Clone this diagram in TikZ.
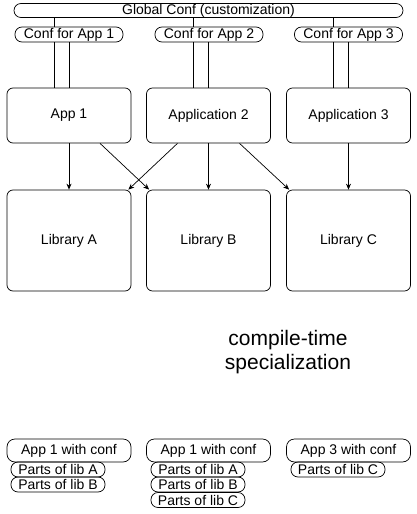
\documentclass[tikz,border=0pt]{standalone}
\usepackage{fontspec}
\setmainfont{Liberation Sans}
\usetikzlibrary{arrows.meta}
\begin{document}
\begin{tikzpicture}[x=1pt,y=-1pt,line width=.7pt,
  pill/.style={draw,rounded corners=7pt,inner sep=0pt,minimum height=15pt,
    font=\fontsize{14}{15}\selectfont},
  box/.style={draw,rounded corners=6pt,inner sep=0pt,minimum width=124pt,
    font=\fontsize{14}{15}\selectfont},
  link/.style={-{Stealth[length=6pt,width=5pt]}}]
  \useasboundingbox (0,0) rectangle (417,514);
  \node[pill,minimum width=389pt,minimum height=14pt] (glob) at (208.5,10.5) {Global Conf (customization)};
  \node[pill,minimum width=108pt] (conf1) at (69,34.5) {Conf for App 1};
  \node[pill,minimum width=108pt] (conf2) at (209,34.5) {Conf for App 2};
  \node[pill,minimum width=108pt] (conf3) at (348.5,34.5) {Conf for App 3};
  \node[box,minimum height=55pt] (app1) at (69,115.5) {App 1};
  \node[box,minimum height=55pt] (app2) at (208.5,115.5) {Application 2};
  \node[box,minimum height=55pt] (app3) at (348.5,115.5) {Application 3};
  \node[box,minimum height=101pt] (libA) at (69,240.5) {Library A};
  \node[box,minimum height=101pt] (libB) at (208.5,240.5) {Library B};
  \node[box,minimum height=101pt] (libC) at (348.5,240.5) {Library C};
  \foreach \n in {1,2,3} {
    \coordinate (a\n) at ([xshift=-15pt]app\n.north);
    \draw (a\n) -- (a\n |- conf\n.south);
    \draw (app\n.north) -- (app\n.north |- conf\n.south);
    \draw (a\n |- conf\n.north) -- (a\n |- glob.south);
  }
  \draw[link] (app1) -- (libA);
  \draw[link] (app2) -- (libB);
  \draw[link] (app3) -- (libC);
  \draw[link] ([xshift=31pt]app1.south) -- ([xshift=3pt]libB.north west);
  \draw[link] ([xshift=-31pt]app2.south) -- ([xshift=-3pt]libA.north east);
  \draw[link] ([xshift=31pt]app2.south) -- ([xshift=3pt]libC.north west);
  \node[align=center,font=\fontsize{21}{24}\selectfont] (spec) at (288,352) {compile-time\\specialization};
  % result of specialization
  \node[box,rounded corners=8pt,minimum height=23pt] (wc1) at (69,450.5) {App 1 with conf};
  \node[box,rounded corners=8pt,minimum height=23pt] (wc2) at (208.5,450.5) {App 1 with conf};
  \node[box,rounded corners=8pt,minimum height=23pt] (wc3) at (348.5,450.5) {App 3 with conf};
  \node[pill,minimum width=94pt] (pA1) at (58,469.5) {Parts of lib A};
  \node[pill,minimum width=94pt] (pB1) at (58,484.5) {Parts of lib B};
  \node[pill,minimum width=94pt] (pA2) at (198,469.5) {Parts of lib A};
  \node[pill,minimum width=94pt] (pB2) at (198,484.5) {Parts of lib B};
  \node[pill,minimum width=94pt] (pC2) at (198,500) {Parts of lib C};
  \node[pill,minimum width=94pt] (pC3) at (338,469.5) {Parts of lib C};
\end{tikzpicture}
\end{document}
